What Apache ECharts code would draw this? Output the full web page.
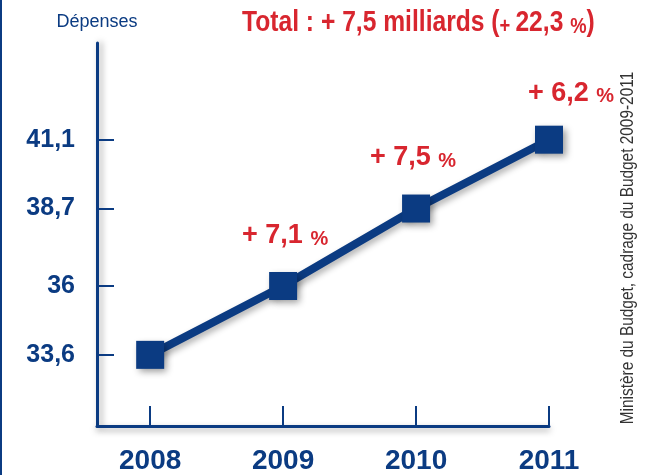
<!DOCTYPE html>
<html>
<head>
<meta charset="utf-8">
<script src="https://cdn.jsdelivr.net/npm/echarts@6/dist/echarts.min.js"></script>
<style>
html,body{margin:0;padding:0;background:#fff;}
#c{width:645px;height:475px;}
</style>
</head>
<body>
<div id="c"></div>
<script>
var years = [2008, 2009, 2010, 2011];
var depenses = [33.6, 36, 38.7, 41.1];
var growthLabels = ['', '+ 7,1', '+ 7,5', '+ 6,2'];
var yTicks = [33.6, 36, 38.7, 41.1];
var titleMain = 'Total : + 7,5 milliards (';
var titlePlus = '+ ';
var titleNum = '22,3 ';
var titlePct = '%';
var titleEnd = ')';
var yAxisName = 'Dépenses';
var sourceText = 'Ministère du Budget, cadrage du Budget 2009-2011';

var NAVY = '#0b3b82';
var RED = '#d8262f';
var FONT = '"Liberation Sans", Arial, sans-serif';

var labelOffsets = [[0, 0], [2, 0], [-3, 0], [22, 4]];

var data = years.map(function (y, i) {
  return {
    value: [y, depenses[i]],
    label: {
      show: growthLabels[i] !== '',
      offset: labelOffsets[i]
    }
  };
});

var chart = echarts.init(document.getElementById('c'), null, {renderer: 'canvas'});
chart.setOption({
  backgroundColor: '#fff',
  animation: false,
  grid: {left: 97, right: 96, top: 43, bottom: 47, containLabel: false},
  xAxis: {
    type: 'value',
    min: 2007.6,
    max: 2011,
    splitLine: {show: false},
    axisLine: {show: true, lineStyle: {color: NAVY, width: 3, shadowColor: 'rgba(0,0,0,0.35)', shadowBlur: 6, shadowOffsetY: 3}},
    axisTick: {show: true, inside: true, length: 20, customValues: years, lineStyle: {color: NAVY, width: 2}},
    axisLabel: {
      customValues: years,
      margin: 21,
      fontFamily: FONT, fontWeight: 'bold', fontSize: 28, color: NAVY,
      formatter: function (v) { return String(v); }
    }
  },
  yAxis: {
    type: 'value',
    min: 31.12,
    max: 44.47,
    name: yAxisName,
    nameLocation: 'end',
    nameGap: 12,
    nameTextStyle: {fontFamily: FONT, fontSize: 18, color: NAVY, align: 'center', verticalAlign: 'bottom'},
    splitLine: {show: false},
    axisLine: {show: true, lineStyle: {color: NAVY, width: 3, shadowColor: 'rgba(0,0,0,0.35)', shadowBlur: 6, shadowOffsetX: 3}},
    axisTick: {show: true, inside: true, length: 17, customValues: yTicks, lineStyle: {color: NAVY, width: 2}},
    axisLabel: {
      customValues: yTicks,
      margin: 22,
      fontFamily: FONT, fontWeight: 'bold', fontSize: 25, color: NAVY,
      formatter: function (v) { return String(v).replace('.', ','); }
    }
  },
  graphic: [
    {
      type: 'rect',
      left: 0, top: 0,
      shape: {x: 0, y: 0, width: 2, height: 475},
      style: {fill: NAVY}
    },
    {
      type: 'text',
      x: 242, y: 23,
      scaleX: 0.835,
      style: {
        text: '{a|' + titleMain + '}{s|' + titlePlus + '}{a|' + titleNum + '}{s|' + titlePct + '}{a|' + titleEnd + '}',
        align: 'left', verticalAlign: 'middle',
        rich: {
          a: {fontFamily: FONT, fontWeight: 'bold', fontSize: 29.5, fill: RED, verticalAlign: 'bottom'},
          s: {fontFamily: FONT, fontWeight: 'bold', fontSize: 22, fill: RED, verticalAlign: 'bottom'}
        }
      }
    },
    {
      type: 'text',
      x: 628, y: 248,
      rotation: Math.PI / 2,
      scaleX: 0.82,
      style: {
        text: sourceText,
        fontFamily: FONT, fontSize: 18.8, fill: '#333',
        align: 'center', verticalAlign: 'middle'
      }
    }
  ],
  series: [{
    type: 'line',
    data: data,
    symbol: 'rect',
    symbolSize: 28,
    lineStyle: {color: NAVY, width: 8, shadowColor: 'rgba(0,0,0,0.3)', shadowBlur: 6, shadowOffsetX: 3, shadowOffsetY: 3},
    itemStyle: {color: NAVY, shadowColor: 'rgba(0,0,0,0.4)', shadowBlur: 7, shadowOffsetX: 3, shadowOffsetY: 3},
    label: {
      show: true,
      position: 'top',
      distance: 23,
      formatter: function (p) {
        return '{n|' + growthLabels[p.dataIndex] + ' }{p|%}';
      },
      rich: {
        n: {fontFamily: FONT, fontWeight: 'bold', fontSize: 27, color: RED, verticalAlign: 'bottom'},
        p: {fontFamily: FONT, fontWeight: 'bold', fontSize: 20, color: RED, verticalAlign: 'bottom'}
      }
    }
  }]
});
</script>
</body>
</html>
